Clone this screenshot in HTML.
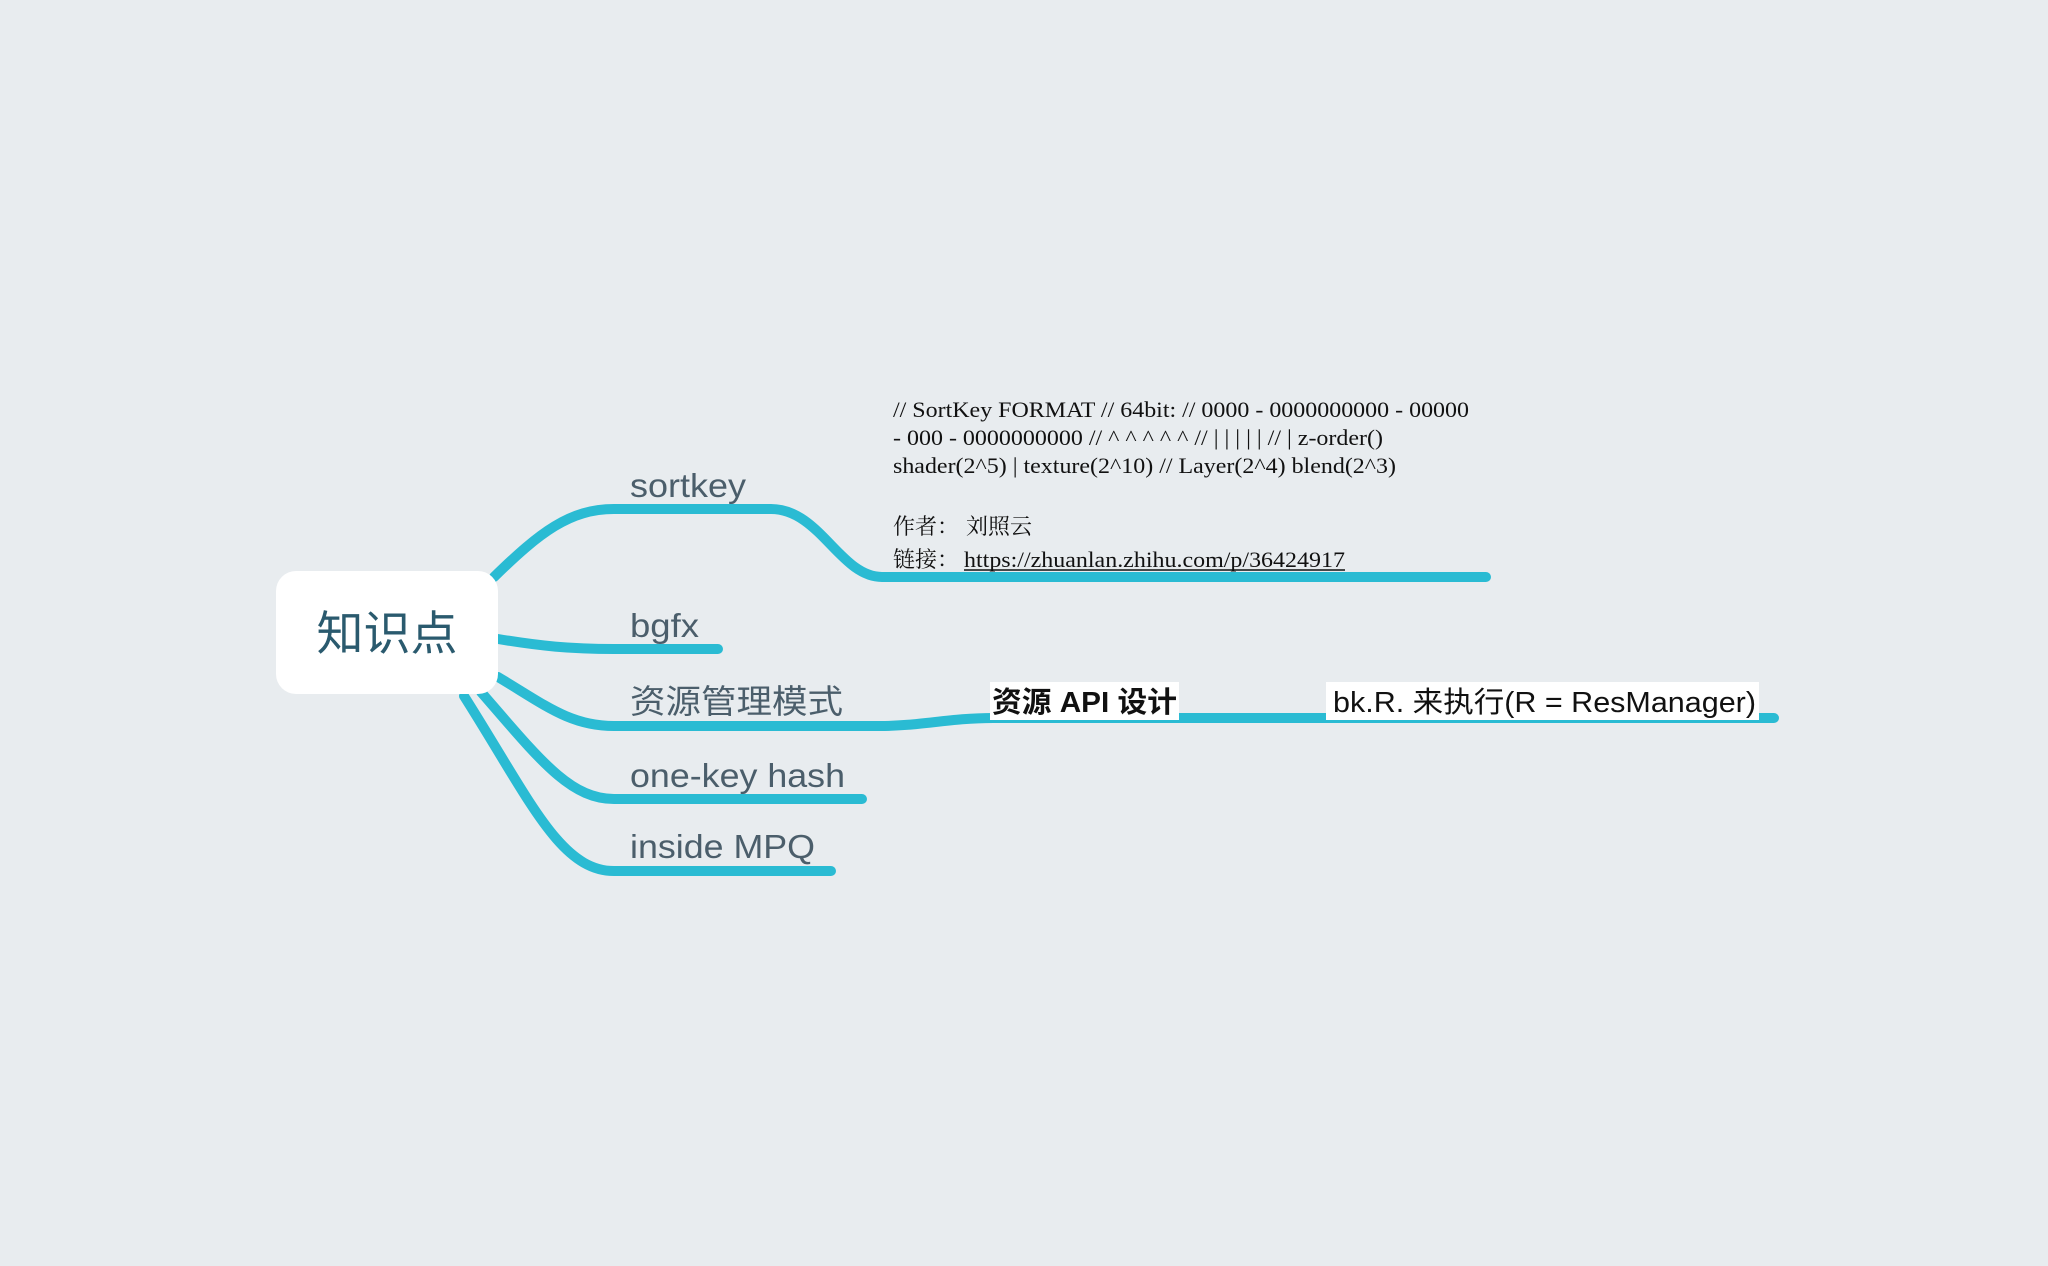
<!DOCTYPE html>
<html><head><meta charset="utf-8"><style>
html,body{margin:0;padding:0;background:#e8ecef;}
svg{display:block}
</style></head><body>
<svg width="2048" height="1266" xmlns="http://www.w3.org/2000/svg">
<rect width="2048" height="1266" fill="#e8ecef"/>
<g fill="none" stroke="#2abbd3" stroke-width="10" stroke-linecap="round">
<path d="M494 577 C540 532 570 509 614 509 L771 509 C820 509 840 577 882 577 L1486 577"/>
<path d="M498 639 C540 646 570 649 614 649 L718 649"/>
<path d="M498 677 C545 705 570 726 614 726 L880 726 C920 726 950 718 993 718 L1774 718"/>
<path d="M481 692 C540 760 570 799 614 799 L862 799"/>
<path d="M464 696 C530 800 560 871 614 871 L831 871"/>
</g>
<rect x="276" y="571" width="222" height="123" rx="20" fill="#fff"/>
<text x="387" y="650" font-family="Liberation Sans, Noto Sans CJK SC, sans-serif" font-size="47" fill="#2a5a6e" text-anchor="middle">知识点</text>
<g font-family="Liberation Sans, Noto Sans CJK SC, sans-serif" font-size="33" fill="#4b5e6b" lengthAdjust="spacingAndGlyphs">
<text x="630" y="497" textLength="116" lengthAdjust="spacingAndGlyphs">sortkey</text>
<text x="630" y="637" textLength="69" lengthAdjust="spacingAndGlyphs">bgfx</text>
<text x="630" y="713" textLength="213" lengthAdjust="spacingAndGlyphs">资源管理模式</text>
<text x="630" y="787" textLength="215" lengthAdjust="spacingAndGlyphs">one-key hash</text>
<text x="630" y="858" textLength="185" lengthAdjust="spacingAndGlyphs">inside MPQ</text>
</g>
<g font-family="Liberation Serif, Noto Serif CJK SC, serif" font-size="22" fill="#111">
<text x="893" y="417" textLength="576" lengthAdjust="spacingAndGlyphs">// SortKey FORMAT // 64bit: // 0000 - 0000000000 - 00000</text>
<text x="893" y="445" textLength="490" lengthAdjust="spacingAndGlyphs">- 000 - 0000000000 // ^ ^ ^ ^ ^ // | | | | | // | z-order()</text>
<text x="893" y="473" textLength="503" lengthAdjust="spacingAndGlyphs">shader(2^5) | texture(2^10) // Layer(2^4) blend(2^3)</text>
<text x="893" y="534">作者：</text>
<text x="966" y="534">刘照云</text>
<text x="893" y="567">链接：</text>
<text x="964" y="567" textLength="381" lengthAdjust="spacingAndGlyphs">https://zhuanlan.zhihu.com/p/36424917</text>
</g>
<line x1="964" y1="570" x2="1345" y2="570" stroke="#111" stroke-width="1.5"/>
<rect x="990" y="682" width="189" height="38" fill="#fff"/>
<rect x="1326" y="682" width="433" height="38" fill="#fff"/>
<text x="992" y="712" font-family="Liberation Sans, Noto Sans CJK SC, sans-serif" font-size="29" font-weight="bold" fill="#111" textLength="185" lengthAdjust="spacingAndGlyphs">资源 API 设计</text>
<text x="1333" y="712" font-family="Liberation Sans, Noto Sans CJK SC, sans-serif" font-size="29" fill="#111" textLength="423" lengthAdjust="spacingAndGlyphs">bk.R. 来执行(R = ResManager)</text>
</svg>
</body></html>
